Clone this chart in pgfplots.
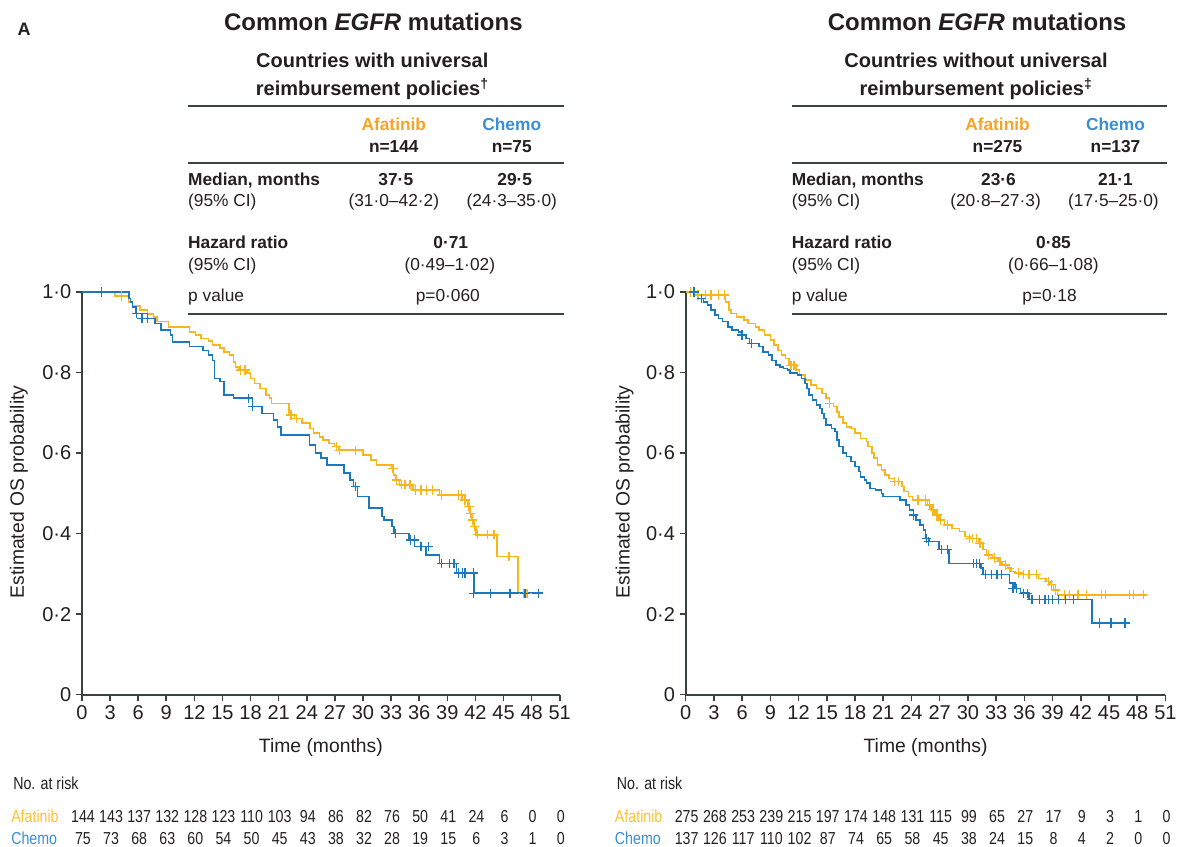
\documentclass[border=0pt]{standalone}
\usepackage{fontspec}
\setmainfont{Liberation Sans}
\newfontfamily\narrowfont{Liberation Sans}[FakeStretch=0.82]
\usepackage{pgfplots}
\pgfplotsset{compat=1.18}
\definecolor{afline}{HTML}{F6B61C}
\definecolor{aftext}{HTML}{F7A325}
\definecolor{afrisk}{HTML}{FCC12E}
\definecolor{chline}{HTML}{1A79BD}
\definecolor{chtext}{HTML}{3A8ED6}
\definecolor{axisgray}{HTML}{3A4343}
\definecolor{txt}{HTML}{231F20}
\newcommand\fTitle{\fontsize{18}{20}\selectfont\bfseries}
\newcommand\fSub{\fontsize{15}{17}\selectfont\bfseries}
\newcommand\fTab{\fontsize{13}{15}\selectfont}
\newcommand\fRisk{\fontsize{13}{14}\selectfont}
\pgfplotsset{
  kmaxis/.style={
    scale only axis, width=358.5pt, height=302.25pt,
    anchor=south west,
    xmin=0, xmax=51, ymin=0, ymax=1,
    axis lines=left,
    axis line style={-, line width=1.3pt, draw=axisgray},
    tick style={line width=1.2pt, draw=axisgray},
    major tick length=4.5pt,
    tick align=outside,
    xtick={0,3,...,51},
    ytick={0,0.2,0.4,0.6,0.8,1},
    yticklabels={{0},{0·2},{0·4},{0·6},{0·8},{1·0}},
    /pgf/number format/assume math mode=true,
    ticklabel style={font=\fontsize{15}{15}\selectfont, text=txt},
    clip=false,
  },
  af/.style={const plot, color=afline, line width=1.15pt, no marks},
  ch/.style={const plot, color=chline, line width=1.15pt, no marks},
  afc/.style={only marks, mark=+, mark size=3.5pt, color=afline, mark options={line width=1pt, color=afline}},
  chc/.style={only marks, mark=+, mark size=3.5pt, color=chline, mark options={line width=1pt, color=chline}},
}
\begin{document}
\begin{tikzpicture}
\begin{scope}[x=0.75pt, y=-0.75pt, text=txt]
\path[use as bounding box] (0,0) rectangle (1181,847);
\node[anchor=base west, font=\fontsize{13.5}{15}\selectfont\bfseries] at (13,36) {A};
% ---- left header ----
\node[anchor=base, font=\fTitle] at (373.5,31) {Common \textit{EGFR} mutations};
\node[anchor=base, font=\fSub] at (372.5,68) {Countries with universal};
\node[anchor=base, font=\fSub] at (372.5,96) {reimbursement policies\textsuperscript{†}};
\draw[axisgray, line width=1.5pt] (188,106) -- (564,106);
\draw[axisgray, line width=1.5pt] (188,163) -- (564,163);
\draw[axisgray, line width=1.5pt] (188,314) -- (564,314);
\node[anchor=base, font=\fTab\bfseries, text=aftext] at (394,131) {Afatinib};
\node[anchor=base, font=\fTab\bfseries, text=chtext] at (512,131) {Chemo};
\node[anchor=base, font=\fTab\bfseries] at (394,153) {n=144};
\node[anchor=base, font=\fTab\bfseries] at (512,153) {n=75};
\node[anchor=base west, inner sep=0pt, font=\fTab\bfseries] at (188,186) {Median, months};
\node[anchor=base, font=\fTab\bfseries] at (396,186) {37·5};
\node[anchor=base, font=\fTab\bfseries] at (515,186) {29·5};
\node[anchor=base west, inner sep=0pt, font=\fTab] at (188,207) {(95\% CI)};
\node[anchor=base, font=\fTab] at (394,207) {(31·0–42·2)};
\node[anchor=base, font=\fTab] at (512,207) {(24·3–35·0)};
\node[anchor=base west, inner sep=0pt, font=\fTab\bfseries] at (188,249) {Hazard ratio};
\node[anchor=base, font=\fTab\bfseries] at (451,249) {0·71};
\node[anchor=base west, inner sep=0pt, font=\fTab] at (188,271) {(95\% CI)};
\node[anchor=base, font=\fTab] at (450,271) {(0·49–1·02)};
\node[anchor=base west, inner sep=0pt, font=\fTab] at (188,302) {p value};
\node[anchor=base, font=\fTab] at (448,302) {p=0·060};
% ---- right header ----
\node[anchor=base, font=\fTitle] at (977.5,31) {Common \textit{EGFR} mutations};
\node[anchor=base, font=\fSub] at (976.5,68) {Countries without universal};
\node[anchor=base, font=\fSub] at (976.5,96) {reimbursement policies\textsuperscript{‡}};
\draw[axisgray, line width=1.5pt] (792,106) -- (1168,106);
\draw[axisgray, line width=1.5pt] (792,163) -- (1168,163);
\draw[axisgray, line width=1.5pt] (792,314) -- (1168,314);
\node[anchor=base, font=\fTab\bfseries, text=aftext] at (998,131) {Afatinib};
\node[anchor=base, font=\fTab\bfseries, text=chtext] at (1116,131) {Chemo};
\node[anchor=base, font=\fTab\bfseries] at (998,153) {n=275};
\node[anchor=base, font=\fTab\bfseries] at (1116,153) {n=137};
\node[anchor=base west, inner sep=0pt, font=\fTab\bfseries] at (792,186) {Median, months};
\node[anchor=base, font=\fTab\bfseries] at (999,186) {23·6};
\node[anchor=base, font=\fTab\bfseries] at (1116,186) {21·1};
\node[anchor=base west, inner sep=0pt, font=\fTab] at (792,207) {(95\% CI)};
\node[anchor=base, font=\fTab] at (996,207) {(20·8–27·3)};
\node[anchor=base, font=\fTab] at (1114,207) {(17·5–25·0)};
\node[anchor=base west, inner sep=0pt, font=\fTab\bfseries] at (792,249) {Hazard ratio};
\node[anchor=base, font=\fTab\bfseries] at (1054,249) {0·85};
\node[anchor=base west, inner sep=0pt, font=\fTab] at (792,271) {(95\% CI)};
\node[anchor=base, font=\fTab] at (1054,271) {(0·66–1·08)};
\node[anchor=base west, inner sep=0pt, font=\fTab] at (792,302) {p value};
\node[anchor=base, font=\fTab] at (1050,302) {p=0·18};
% ---- axis labels ----
\node[anchor=base, font=\fontsize{14.5}{16}\selectfont] at (321,753) {Time (months)};
\node[anchor=base, font=\fontsize{14.5}{16}\selectfont] at (926,753) {Time (months)};
\node[rotate=90, font=\fontsize{14.5}{16}\selectfont] at (19,492) {Estimated OS probability};
\node[rotate=90, font=\fontsize{14.5}{16}\selectfont] at (625,492) {Estimated OS probability};
% ---- numbers at risk ----
\node[anchor=base west, inner sep=0pt, font=\narrowfont\fRisk] at (13,790) {No. at risk};
\node[anchor=base west, inner sep=0pt, font=\narrowfont\fRisk, text=afrisk] at (11,823) {Afatinib};
\node[anchor=base west, inner sep=0pt, font=\narrowfont\fRisk, text=chtext] at (11,845) {Chemo};
\foreach \v [count=\i from 0] in {144,143,137,132,128,123,110,103,94,86,82,76,50,41,24,6,0,0}
  \node[anchor=base, inner sep=0pt, font=\narrowfont\fRisk] at ({83+28.118*\i},823) {\v};
\foreach \v [count=\i from 0] in {75,73,68,63,60,54,50,45,43,38,32,28,19,15,6,3,1,0}
  \node[anchor=base, inner sep=0pt, font=\narrowfont\fRisk] at ({83+28.118*\i},845) {\v};
\node[anchor=base west, inner sep=0pt, font=\narrowfont\fRisk] at (617,790) {No. at risk};
\node[anchor=base west, inner sep=0pt, font=\narrowfont\fRisk, text=afrisk] at (615,823) {Afatinib};
\node[anchor=base west, inner sep=0pt, font=\narrowfont\fRisk, text=chtext] at (615,845) {Chemo};
\foreach \v [count=\i from 0] in {275,268,253,239,215,197,174,148,131,115,99,65,27,17,9,3,1,0}
  \node[anchor=base, inner sep=0pt, font=\narrowfont\fRisk] at ({687+28.235*\i},823) {\v};
\foreach \v [count=\i from 0] in {137,126,117,110,102,87,74,65,58,45,38,24,15,8,4,2,0,0}
  \node[anchor=base, inner sep=0pt, font=\narrowfont\fRisk] at ({687+28.235*\i},845) {\v};
\end{scope}

% ================= LEFT PLOT =================
\begin{axis}[kmaxis, at={(61.5pt,-521.25pt)}]
\addplot[af] coordinates {
(0,1.0) (3.54,0.99) (4.97,0.975) (5.38,0.965) (6.19,0.955) (7.0,0.945) (7.62,0.938) (8.02,0.926) (9.25,0.913) (11.49,0.90) (12.1,0.893) (12.71,0.884) (13.52,0.878) (13.93,0.868) (14.75,0.86) (15.15,0.851) (15.76,0.843) (16.17,0.826) (16.37,0.814) (16.78,0.806) (17.6,0.798) (18.0,0.785) (18.41,0.773) (19.02,0.76) (19.63,0.744) (20.04,0.736) (20.24,0.723) (22.08,0.694) (22.69,0.686) (23.5,0.674) (24.32,0.661) (24.73,0.649) (25.34,0.64) (25.74,0.632) (26.35,0.624) (26.97,0.616) (27.37,0.607) (30.02,0.595) (30.84,0.583) (31.45,0.570) (33.08,0.562) (33.28,0.545) (33.48,0.533) (33.89,0.521) (35.32,0.508) (38.17,0.496) (40.61,0.483) (41.22,0.467) (41.43,0.45) (41.63,0.434) (41.83,0.417) (42.04,0.397) (44.28,0.343) (46.52,0.252) (47.94,0.252)
};
\addplot[ch] coordinates {
(0,1.0) (5.0,0.983) (5.18,0.975) (5.38,0.963) (5.79,0.946) (7.0,0.934) (7.82,0.921) (8.43,0.905) (9.45,0.893) (9.65,0.876) (11.49,0.864) (12.9,0.855) (13.52,0.843) (13.93,0.83) (14.13,0.785) (14.75,0.777) (15.15,0.744) (16.17,0.736) (18.21,0.715) (19.23,0.698) (20.45,0.682) (20.86,0.665) (21.26,0.645) (24.3,0.62) (24.93,0.60) (25.54,0.587) (26.15,0.570) (28.0,0.55) (28.6,0.533) (29.0,0.517) (29.4,0.492) (30.63,0.463) (32.0,0.442) (32.26,0.434) (33.08,0.417) (33.3,0.40) (34.9,0.384) (35.52,0.368) (36.74,0.347) (38.17,0.326) (39.99,0.302) (41.83,0.252) (49.2,0.252)
};
\addplot[afc] coordinates {
(4.2,0.99) (16.9,0.806) (17.4,0.806) (22.3,0.694) (22.9,0.686) (27.2,0.616) (27.5,0.607) (29.2,0.607) (33.2,0.562) (33.6,0.533) (34.1,0.521) (34.5,0.521) (35.0,0.521) (35.6,0.508) (36.2,0.508) (36.8,0.508) (37.4,0.508) (38.4,0.496) (40.2,0.496) (40.5,0.496) (40.9,0.483) (41.3,0.467) (41.5,0.45) (41.7,0.434) (41.9,0.417) (42.2,0.397) (43.3,0.397) (44.0,0.397) (45.6,0.343) (47.2,0.252) (47.5,0.252)
};
\addplot[chc] coordinates {
(2.1,1.0) (5.8,0.946) (6.4,0.934) (7.0,0.934) (17.8,0.736) (18.2,0.715) (29.2,0.517) (33.5,0.40) (35.1,0.384) (35.5,0.384) (36.2,0.368) (37.0,0.368) (38.4,0.326) (39.2,0.326) (39.7,0.326) (40.2,0.302) (40.6,0.302) (40.9,0.302) (41.8,0.302) (41.8,0.252) (43.6,0.252) (45.7,0.252) (47.3,0.252) (48.7,0.252)
};
\end{axis}

% ================= RIGHT PLOT =================
\begin{axis}[kmaxis, at={(514.5pt,-521.25pt)}, width=360pt]
\addplot[af] coordinates {
(0,1.0) (0.9,0.992) (4.25,0.975) (4.6,0.955) (4.8,0.946) (5.4,0.938) (6.2,0.93) (6.6,0.921) (7.4,0.913) (7.8,0.905) (8.4,0.893) (9.0,0.88) (9.4,0.868) (9.8,0.855) (10.2,0.843) (10.6,0.835) (11.0,0.818) (11.7,0.806) (12.1,0.793) (12.7,0.781) (13.3,0.769) (13.9,0.76) (14.5,0.748) (14.9,0.736) (15.3,0.723) (15.7,0.715) (16.1,0.702) (16.3,0.69) (16.7,0.674) (17.1,0.665) (17.6,0.661) (18.0,0.649) (18.6,0.636) (19.2,0.628) (19.4,0.616) (19.8,0.60) (20.0,0.587) (20.4,0.570) (20.8,0.558) (21.2,0.545) (21.6,0.537) (22.2,0.529) (23.0,0.517) (23.2,0.504) (23.7,0.492) (24.1,0.483) (25.7,0.471) (26.1,0.459) (26.5,0.446) (26.9,0.434) (27.5,0.421) (28.3,0.413) (29.1,0.405) (29.7,0.393) (30.2,0.388) (31.2,0.376) (31.6,0.36) (32.0,0.347) (32.6,0.339) (33.2,0.331) (33.6,0.322) (34.2,0.314) (34.6,0.306) (35.0,0.302) (35.9,0.298) (37.5,0.289) (38.3,0.281) (38.7,0.273) (39.1,0.26) (39.5,0.248) (49.0,0.248)
};
\addplot[ch] coordinates {
(0,1.0) (1.3,0.992) (1.7,0.983) (1.9,0.975) (2.3,0.967) (2.7,0.955) (3.1,0.942) (3.5,0.934) (3.9,0.926) (4.5,0.913) (4.9,0.905) (5.6,0.90) (6.0,0.893) (6.4,0.884) (6.8,0.872) (7.8,0.864) (8.2,0.851) (8.8,0.843) (9.2,0.83) (9.6,0.818) (10.0,0.814) (10.4,0.81) (10.8,0.806) (11.1,0.798) (11.9,0.793) (12.3,0.785) (12.7,0.773) (12.9,0.76) (13.1,0.744) (13.5,0.731) (13.9,0.719) (14.3,0.711) (14.5,0.698) (14.7,0.686) (14.9,0.669) (15.5,0.661) (15.9,0.653) (16.1,0.632) (16.3,0.616) (16.7,0.60) (17.1,0.591) (17.6,0.579) (18.0,0.566) (18.4,0.554) (18.6,0.541) (19.0,0.533) (19.2,0.525) (19.6,0.512) (20.2,0.508) (20.8,0.50) (21.0,0.492) (22.8,0.483) (23.4,0.471) (23.8,0.459) (24.2,0.446) (24.5,0.434) (24.9,0.421) (25.3,0.409) (25.5,0.388) (25.9,0.38) (26.9,0.36) (28.0,0.326) (31.4,0.314) (31.6,0.298) (34.4,0.277) (35.0,0.264) (35.6,0.252) (36.5,0.236) (43.2,0.178) (47.2,0.178)
};
\addplot[afc] coordinates {
(0.5,1.0) (1.3,0.992) (2.1,0.992) (2.7,0.992) (3.5,0.992) (4.1,0.992) (11.2,0.818) (11.5,0.818) (15.3,0.723) (22.2,0.529) (22.6,0.529) (24.7,0.483) (25.5,0.483) (25.9,0.471) (26.3,0.459) (26.7,0.446) (27.1,0.434) (27.8,0.421) (30.2,0.388) (30.5,0.388) (30.9,0.388) (31.3,0.376) (32.2,0.347) (32.8,0.339) (33.4,0.331) (34.0,0.322) (34.4,0.314) (35.4,0.302) (35.9,0.298) (36.5,0.298) (37.3,0.298) (38.6,0.281) (38.9,0.273) (39.3,0.26) (40.3,0.248) (40.8,0.248) (41.7,0.248) (42.6,0.248) (44.2,0.248) (44.6,0.248) (47.2,0.248) (47.6,0.248) (48.7,0.248)
};
\addplot[chc] coordinates {
(0.9,1.0) (1.7,0.983) (6.0,0.893) (7.0,0.872) (24.2,0.446) (25.6,0.388) (25.8,0.38) (27.2,0.36) (27.8,0.36) (30.6,0.326) (30.9,0.326) (31.2,0.326) (31.9,0.298) (32.5,0.298) (33.1,0.298) (33.6,0.298) (34.8,0.264) (35.2,0.264) (35.9,0.252) (36.3,0.252) (36.8,0.236) (37.6,0.236) (38.2,0.236) (38.6,0.236) (39.0,0.236) (39.6,0.236) (40.4,0.236) (41.2,0.236) (44.0,0.178) (45.2,0.178) (46.7,0.178)
};
\end{axis}
\end{tikzpicture}
\end{document}
